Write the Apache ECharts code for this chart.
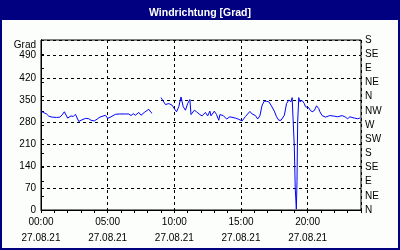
<!DOCTYPE html>
<html>
<head>
<meta charset="utf-8">
<script src="https://cdn.jsdelivr.net/npm/echarts@6/dist/echarts.min.js"></script>
<style>html,body{margin:0;padding:0;background:#fff}#c{width:400px;height:250px}</style>
</head>
<body>
<div id="c"></div>
<script>
const titleText = 'Windrichtung [Grad]';
const dateLabel = '27.08.21';
const xTickLabels = ['00:00', '05:00', '10:00', '15:00', '20:00'];
const leftAxisName = 'Grad';
const compassLabels = ['N','NE','E','SE','S','SW','W','NW','N','NE','E','SE','S'];

const times = [
 '00:00','00:10','00:25','00:35','00:40','00:50','00:55','01:10','01:25','01:35','01:45','02:00','02:05','02:15','02:25','02:35','02:50','03:00','03:20','03:35','03:45','04:00','04:15','04:25','04:30','04:50','05:00','05:05','05:15','05:35','05:55','06:20','06:35','06:45','06:55','07:05','07:20','07:30','07:45','08:05','08:15','08:20',
 '08:40',
 '09:00','09:10','09:20','09:35','09:50','10:00','10:10','10:20','10:30','10:40','10:50','11:00','11:10','11:15','11:30','11:40','11:55','12:05','12:20','12:30','12:40','12:45','13:00','13:10','13:20','13:25','13:40','13:55','14:10','14:35','14:50','15:05','15:20','15:40','15:50','16:05','16:15','16:25','16:35','16:45','16:55','17:05','17:15','17:30','17:40','17:50','18:00','18:15','18:25','18:35','18:45','18:50','18:55',
 '19:00','19:04','19:09','19:12','19:15','19:20',
 '19:25','19:35','19:45','19:50','20:05','20:10','20:20','20:30','20:40','20:50','20:55','21:05','21:20','21:40','22:00','22:15','22:35','22:50','23:00','23:10','23:30','23:45','23:55'
];
const values = [
 314,310,305,298,301,295,293,294,295,302,312,292,289,299,297,304,281,285,291,290,285,283,290,295,299,301,291,285,296,304,305,305,305,300,306,301,310,301,310,320,310,307,
 null,
 357,346,335,338,333,322,312,328,359,328,317,338,351,303,317,312,303,299,310,299,314,299,314,303,285,303,300,289,296,292,288,283,297,313,305,300,289,299,333,346,345,344,333,314,296,285,285,301,338,349,344,357,360,
 200,70,3,90,280,357,
 344,348,338,328,325,318,312,316,331,322,312,300,295,300,298,296,300,295,290,296,292,290,292
];

function toMin(t){const p=t.split(':');return (+p[0])*60+(+p[1]);}
const seriesData = times.map((t,i)=>[toMin(t), values[i]]);

const font = 'Liberation Sans';
const chart = echarts.init(document.getElementById('c'), null, {renderer:'canvas'});
chart.setOption({
  backgroundColor: '#fcfefc',
  animation: false,
  title: {
    text: titleText, left: 'center', top: 3,
    textStyle: {color:'#fff', fontFamily: font, fontSize: 10.5, fontWeight: 'bold'}
  },
  graphic: [
    {type:'rect', z:-1, shape:{x:0,y:0,width:400,height:20}, style:{fill:'#000080'}},
    {type:'rect', z:100, shape:{x:1,y:1,width:398,height:248}, style:{fill:null, stroke:'#000080', lineWidth:2}}
  ],
  grid: {left:41, right:39, top:40, bottom:40, show:true, borderColor:'#000', borderWidth:1, backgroundColor:'transparent'},
  xAxis: [
    {
      type:'value', min:0, max:1440, interval:300,
      axisLine:{show:true, lineStyle:{color:'#000', width:1}},
      axisTick:{show:false},
      splitLine:{show:true, lineStyle:{color:'#000', type:[3,3], width:1}},
      axisLabel:{
        show:true, margin:4, color:'#000', fontFamily:font, fontSize:10, lineHeight:16,
        showMaxLabel:false,
        formatter: v => (v % 300 === 0 && v/300 < xTickLabels.length) ? xTickLabels[v/300] + '\n' + dateLabel : ''
      }
    },
    {
      type:'value', min:0, max:1440, interval:60, position:'bottom',
      axisLine:{show:false}, splitLine:{show:false}, axisLabel:{show:false},
      axisTick:{show:true, length:3, inside:false, lineStyle:{color:'#000'}}
    }
  ],
  yAxis: [
    {
      type:'value', min:0, max:540, interval:70, position:'left',
      name: leftAxisName, nameLocation:'end', nameGap:-5,
      nameTextStyle:{color:'#000', fontFamily:font, fontSize:10, align:'right', verticalAlign:'middle', padding:[0,5,0,0]},
      axisLine:{show:true, lineStyle:{color:'#000'}},
      axisTick:{show:false},
      splitLine:{show:true, lineStyle:{color:'#000', type:[3,3], width:1}},
      axisLabel:{color:'#000', fontFamily:font, fontSize:10, margin:5, showMaxLabel:false}
    },
    {
      type:'value', min:0, max:540, interval:45, position:'right',
      axisLine:{show:true, lineStyle:{color:'#000'}},
      axisTick:{show:true, length:3, lineStyle:{color:'#000'}},
      splitLine:{show:false},
      axisLabel:{color:'#000', fontFamily:font, fontSize:10, margin:4, showMaxLabel:true,
        formatter: v => compassLabels[Math.round(v/45)] || ''}
    }
  ],
  series: [{
    type:'line', xAxisIndex:0, yAxisIndex:0, data: seriesData,
    showSymbol:false, symbol:'none', connectNulls:false,
    lineStyle:{color:'#0000ff', width:1}, itemStyle:{color:'#0000ff'}
  }]
});
</script>
</body>
</html>
